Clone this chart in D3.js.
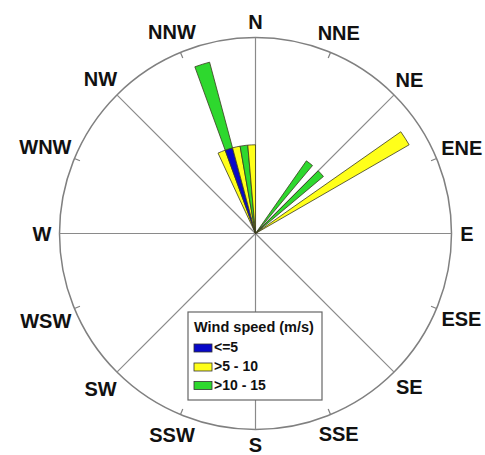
<!DOCTYPE html>
<html>
<head>
<meta charset="utf-8">
<script src="https://cdn.jsdelivr.net/npm/d3@7"></script>
<style>
  html, body { margin: 0; padding: 0; background: #fff; }
  svg { display: block; font-family: "Liberation Sans", Arial, sans-serif; }
</style>
</head>
<body>
<svg id="chart" width="485" height="455"></svg>
<script>
// ---- data ----
const directionLabels = ["N","NNE","NE","ENE","E","ESE","SE","SSE","S","SSW","SW","WSW","W","WNW","NW","NNW"];
// direction bins (start angle in degrees, 5° wide)
const binStart = [335, 340, 345, 350, 355, 35, 45, 55];
const binWidth = 5;
// counts per speed class
const speedLE5   = [0, 1, 0, 0, 0, 0, 0, 0];
const speed5to10 = [1, 0, 1, 0, 1, 0, 0, 2];
const speed10to15= [0, 1, 0, 1, 0, 1, 1, 0];
const speedClasses = ["<=5", ">5 - 10", ">10 - 15"];
const classColors = ["#0808c8", "#ffff1a", "#2ed82e"];
const radialMax = 2.21;

// ---- layout ----
const svg = d3.select("#chart");
const cx = 255.5, cy = 233.5, R = 196;
const g = svg.append("g").attr("transform", `translate(${cx},${cy})`);
const rScale = d3.scaleLinear().domain([0, radialMax]).range([0, R]);
const angScale = d3.scaleLinear().domain([0, 360]).range([0, 2 * Math.PI]);

// circle
g.append("circle").attr("r", R).attr("fill", "none").attr("stroke", "#808080").attr("stroke-width", 1.5);

// main lines every 45°
d3.range(0, 360, 45).forEach(a => {
  const t = angScale(a);
  g.append("line")
    .attr("x1", 0).attr("y1", 0)
    .attr("x2", R * Math.sin(t)).attr("y2", -R * Math.cos(t))
    .attr("stroke", "#8a8a8a").attr("stroke-width", 1.2);
});
// small ticks at intermediate 22.5° directions
d3.range(22.5, 360, 45).forEach(a => {
  const t = angScale(a);
  g.append("line")
    .attr("x1", (R - 6) * Math.sin(t)).attr("y1", -(R - 6) * Math.cos(t))
    .attr("x2", R * Math.sin(t)).attr("y2", -R * Math.cos(t))
    .attr("stroke", "#808080").attr("stroke-width", 1.2);
});

// bars (stacked)
const arc = d3.arc();
const series = [speedLE5, speed5to10, speed10to15];
binStart.forEach((b, i) => {
  let acc = 0;
  series.forEach((s, k) => {
    const v = s[i];
    if (v > 0) {
      g.append("path")
        .attr("d", arc({
          innerRadius: rScale(acc),
          outerRadius: rScale(acc + v),
          startAngle: angScale(b),
          endAngle: angScale(b + binWidth)
        }))
        .attr("fill", classColors[k])
        .attr("stroke", "#3a3a20").attr("stroke-width", 0.8);
      acc += v;
    }
  });
});

// direction labels
const fs = 20;
directionLabels.forEach((lab, i) => {
  const a = i * 22.5, t = angScale(a);
  const txt = svg.append("text")
    .attr("font-size", fs).attr("font-weight", "bold")
    .attr("text-anchor", "middle").attr("fill", "#111")
    .text(lab);
  const w = txt.node().getComputedTextLength();
  const ext = (w / 2) * Math.abs(Math.sin(t)) + 7 * Math.abs(Math.cos(t));
  const rr = 206 + 0.8 * ext;
  txt.attr("x", cx + rr * Math.sin(t))
     .attr("y", cy - rr * Math.cos(t) + 0.358 * fs);
});

// legend
const lg = svg.append("g");
lg.append("rect").attr("x", 188).attr("y", 312).attr("width", 134).attr("height", 88)
  .attr("fill", "#fff").attr("stroke", "#666").attr("stroke-width", 1.2);
lg.append("text").attr("x", 194).attr("y", 331.5)
  .attr("font-size", 14.5).attr("font-weight", "bold").attr("fill", "#111")
  .text("Wind speed (m/s)");
speedClasses.forEach((c, k) => {
  const yb = [352, 371, 389.5][k];
  lg.append("rect").attr("x", 194).attr("y", yb - 8).attr("width", 18).attr("height", 8)
    .attr("fill", classColors[k]).attr("stroke", "#333").attr("stroke-width", 0.8);
  lg.append("text").attr("x", 214).attr("y", yb)
    .attr("font-size", 14).attr("font-weight", "bold").attr("fill", "#111")
    .text(c);
});
</script>
</body>
</html>
